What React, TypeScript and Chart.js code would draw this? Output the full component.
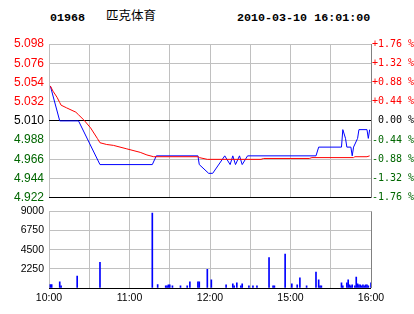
import React, { useEffect, useRef } from 'react';
import { Chart, registerables } from 'chart.js';
Chart.register(...registerables);

const stockCode = '01968';
const stockName = '匹克体育';
const timestamp = '2010-03-10 16:01:00';

// price axis ticks (ascending) and percent labels relative to previous close 5.010
const priceTicks = [4.922, 4.944, 4.966, 4.988, 5.01, 5.032, 5.054, 5.076, 5.098];
const pctLabels = ['-1.76 %', '-1.32 %', '-0.88 %', '-0.44 %', ' 0.00 %', '+0.44 %', '+0.88 %', '+1.32 %', '+1.76 %'];
const volTicks = [0, 2250, 4500, 6750, 9000];
// trading minute index (0 = 10:00, 150 = 12:30/14:30, 240 = 16:00)
const timeTicks = [0, 30, 60, 90, 120, 150, 180, 210, 240];
const timeLabels = ['10:00', '', '11:00', '', '12:00', '', '15:00', '', '16:00'];

// last price (blue)
const priceMinutes = [1, 8, 22, 38, 77, 80, 111, 112, 119, 122, 131, 135, 137, 139, 142, 144, 148, 199, 201, 218, 219, 221, 222, 225, 226, 227, 230, 231, 237, 238, 239];
const priceValues = [5.05, 5.01, 5.01, 4.96, 4.96, 4.97, 4.97, 4.96, 4.95, 4.95, 4.97, 4.96, 4.97, 4.96, 4.97, 4.96, 4.97, 4.97, 4.98, 4.98, 5.0, 4.99, 4.98, 4.98, 4.97, 4.98, 4.99, 5.0, 5.0, 4.99, 5.0];

// average price (red)
const avgMinutes = [1, 3, 6, 8, 9, 13, 20, 22, 26, 31, 36, 38, 43, 48, 58, 68, 73, 78, 111, 112, 118, 158, 160, 194, 196, 227, 228, 237, 239];
const avgValues = [5.05, 5.044, 5.037, 5.031, 5.028, 5.025, 5.02, 5.017, 5.011, 5.002, 4.99, 4.985, 4.983, 4.982, 4.978, 4.974, 4.971, 4.969, 4.969, 4.968, 4.966, 4.966, 4.967, 4.967, 4.968, 4.968, 4.969, 4.969, 4.97];

// volume (blue bars)
const volMinutes = [1, 2, 8, 9, 21, 38, 77, 81, 87, 88, 89, 90, 92, 98, 103, 105, 111, 112, 118, 121, 132, 137, 138, 140, 143, 144, 149, 152, 155, 164, 167, 168, 176, 181, 185, 187, 192, 199, 201, 202, 203, 218, 219, 222, 223, 224, 225, 226, 228, 229, 230, 231, 232, 233, 234, 235, 236, 237, 238, 240];
const volValues = [410, 410, 720, 260, 1400, 3000, 8800, 410, 260, 260, 380, 380, 260, 260, 260, 720, 720, 720, 2200, 950, 380, 490, 260, 600, 260, 490, 260, 260, 260, 3570, 260, 260, 3990, 490, 380, 1180, 260, 1860, 950, 260, 260, 600, 260, 600, 950, 380, 260, 380, 260, 1290, 490, 380, 380, 260, 380, 260, 380, 380, 260, 600];

const RED = '#ff0000';
const GREEN = '#006600';
const GRID = '#c0c0c0';
const EDGE = '#808080';
const MID = 4;

function tickColor(i: number) {
  if (i === MID) return '#000000';
  return i > MID ? RED : GREEN;
}

export default function App() {
  const priceRef = useRef<HTMLCanvasElement | null>(null);
  const volRef = useRef<HTMLCanvasElement | null>(null);

  useEffect(() => {
    const xGrid = {
      color: (ctx: any) => (ctx.index === timeTicks.length - 1 ? EDGE : GRID),
      drawTicks: false,
      lineWidth: 1,
      offset: false,
    };
    const setTimeTicks = (s: any) => {
      s.ticks = timeTicks.map((v) => ({ value: v }));
    };

    const price = new Chart(priceRef.current as HTMLCanvasElement, {
      type: 'line',
      data: {
        datasets: [
          {
            data: avgMinutes.map((m, i) => ({ x: m, y: avgValues[i] })),
            borderColor: RED,
            borderWidth: 1,
            pointRadius: 0,
            tension: 0,
            fill: false,
            order: 0,
          },
          {
            data: priceMinutes.map((m, i) => ({ x: m, y: priceValues[i] })),
            borderColor: '#0000ff',
            borderWidth: 1,
            pointRadius: 0,
            tension: 0,
            fill: false,
            order: 1,
          },
        ],
      },
      options: {
        animation: false,
        responsive: false,
        maintainAspectRatio: false,
        events: [],
        layout: { padding: { top: 14, bottom: 7, left: 0, right: 0 } },
        plugins: { legend: { display: false }, tooltip: { enabled: false } },
        scales: {
          x: {
            type: 'linear',
            min: 0,
            max: 240,
            offset: false,
            afterBuildTicks: setTimeTicks,
            ticks: { display: false },
            grid: xGrid,
            border: { display: false },
            afterFit: (s: any) => {
              s.height = 0;
            },
          },
          y: {
            position: 'left',
            min: priceTicks[0],
            max: priceTicks[priceTicks.length - 1],
            afterBuildTicks: (s: any) => {
              s.ticks = priceTicks.map((v) => ({ value: v }));
            },
            ticks: {
              callback: (_v: any, i: number) => priceTicks[i].toFixed(3),
              color: (ctx: any) => tickColor(ctx.index),
              font: { family: '"Liberation Sans", Arial, sans-serif', size: 12 },
              padding: 5,
            },
            grid: {
              color: (ctx: any) => (ctx.index === 0 || ctx.index === MID ? '#000000' : GRID),
              drawTicks: false,
              lineWidth: 1,
            },
            border: { display: false },
            afterFit: (s: any) => {
              s.width = 49;
            },
          },
          y2: {
            position: 'right',
            min: priceTicks[0],
            max: priceTicks[priceTicks.length - 1],
            afterBuildTicks: (s: any) => {
              s.ticks = priceTicks.map((v) => ({ value: v }));
            },
            ticks: {
              callback: (_v: any, i: number) => pctLabels[i],
              color: (ctx: any) => tickColor(ctx.index),
              font: { family: '"DejaVu Sans Mono", monospace', size: 10 },
              padding: 1,
            },
            grid: { display: false, drawOnChartArea: false, drawTicks: false },
            border: { display: false },
            afterFit: (s: any) => {
              s.width = 43;
            },
          },
        },
      },
    } as any);

    const vol = new Chart(volRef.current as HTMLCanvasElement, {
      type: 'bar',
      data: {
        datasets: [
          {
            data: volMinutes.map((m, i) => ({ x: m, y: volValues[i] })),
            backgroundColor: '#0000ff',
            borderWidth: 0,
            barThickness: 1,
          },
        ],
      },
      options: {
        animation: false,
        responsive: false,
        maintainAspectRatio: false,
        events: [],
        layout: { padding: { top: 9, right: 43, left: 0, bottom: 0 } },
        plugins: { legend: { display: false }, tooltip: { enabled: false } },
        scales: {
          x: {
            type: 'linear',
            min: 0,
            max: 240,
            offset: false,
            afterBuildTicks: setTimeTicks,
            ticks: {
              callback: (_v: any, i: number) => timeLabels[i],
              color: '#000000',
              font: { family: '"Liberation Sans", Arial, sans-serif', size: 10.5 },
              padding: 4,
              maxRotation: 0,
              minRotation: 0,
              autoSkip: false,
            },
            grid: xGrid,
            border: { display: false },
            afterFit: (s: any) => {
              s.height = 26;
            },
          },
          y: {
            position: 'left',
            min: 0,
            max: volTicks[volTicks.length - 1],
            afterBuildTicks: (s: any) => {
              s.ticks = volTicks.map((v) => ({ value: v }));
            },
            ticks: {
              callback: (_v: any, i: number) => (i === 0 ? '' : String(volTicks[i])),
              color: '#000000',
              font: { family: '"Liberation Sans", Arial, sans-serif', size: 10.5 },
              padding: 5,
            },
            grid: {
              color: (ctx: any) => (ctx.index === 0 ? '#000000' : GRID),
              drawTicks: false,
              lineWidth: 1,
            },
            border: { display: false },
            afterFit: (s: any) => {
              s.width = 49;
            },
          },
        },
      },
    } as any);

    return () => {
      price.destroy();
      vol.destroy();
    };
  }, []);

  const mono = 'bold 11.7px "Liberation Mono", "DejaVu Sans Mono", monospace';
  return (
    <div style={{ position: 'fixed', left: 0, top: 0, width: 414, height: 314, background: '#ffffff', overflow: 'hidden' }}>
      <div style={{ position: 'absolute', left: 50, top: 11.5, font: mono, lineHeight: '12px', color: '#000', whiteSpace: 'pre' }}>{stockCode}</div>
      <div style={{ position: 'absolute', left: 106, top: 8.3, font: '12.5px "Noto Sans CJK SC", sans-serif', lineHeight: '13px', color: '#000', whiteSpace: 'pre' }}>{stockName}</div>
      <div style={{ position: 'absolute', left: 237, top: 11.5, font: mono, lineHeight: '12px', color: '#000', whiteSpace: 'pre' }}>{timestamp}</div>
      <canvas ref={priceRef} width={414} height={180} style={{ position: 'absolute', left: 0, top: 30, width: 414, height: 180 }} />
      <canvas ref={volRef} width={414} height={114} style={{ position: 'absolute', left: 0, top: 200, width: 414, height: 114 }} />
    </div>
  );
}
